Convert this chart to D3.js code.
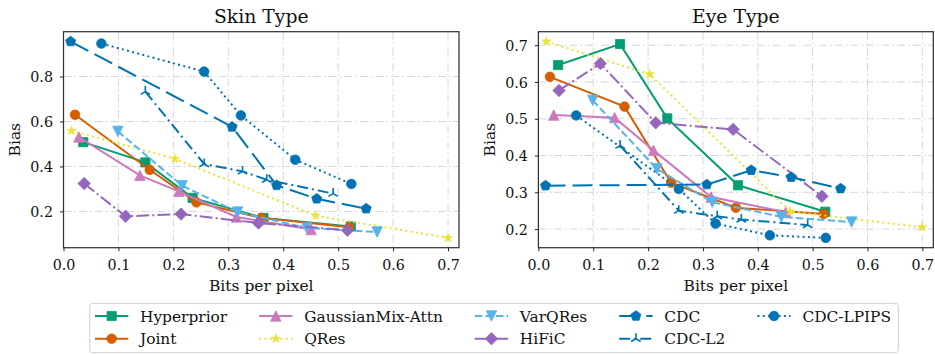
<!DOCTYPE html>
<html><head><meta charset="utf-8">
<script src="https://cdn.jsdelivr.net/npm/d3@7"></script>
<style>body{margin:0;background:#fff} svg{display:block} text{font-family:"DejaVu Serif",serif;fill:#111}</style>
</head><body><svg id="c" width="935" height="354"></svg>
<script>
// ---------- data ----------
const xTicks = [0, 0.1, 0.2, 0.3, 0.4, 0.5, 0.6, 0.7];
const xDomain = [0, 0.72];
const skinYTicks = [0.2, 0.4, 0.6, 0.8];
const eyeYTicks = [0.2, 0.3, 0.4, 0.5, 0.6, 0.7];
const panelTitles = ["Skin Type", "Eye Type"];
const xLabel = "Bits per pixel";
const yLabel = "Bias";
const seriesNames = ["Hyperprior", "Joint", "GaussianMix-Attn", "QRes", "VarQRes", "HiFiC", "CDC", "CDC-L2", "CDC-LPIPS"];

const hyperpriorBpp  = [0.036, 0.149, 0.235, 0.364, 0.523];
const hyperpriorSkin = [0.508, 0.418, 0.260, 0.171, 0.133];
const hyperpriorEye  = [0.646, 0.703, 0.501, 0.319, 0.247];

const jointBpp  = [0.021, 0.157, 0.242, 0.360, 0.520];
const jointSkin = [0.630, 0.385, 0.240, 0.171, 0.129];
const jointEye  = [0.614, 0.533, 0.326, 0.258, 0.241];

const gmaBpp  = [0.028, 0.139, 0.210, 0.315, 0.451];
const gmaSkin = [0.531, 0.360, 0.289, 0.175, 0.119];
const gmaEye  = [0.510, 0.503, 0.414, 0.287, 0.246];

const qresBpp  = [0.0146, 0.203, 0.459, 0.700];
const qresSkin = [0.559, 0.434, 0.181, 0.082];
const qresEye  = [0.710, 0.621, 0.248, 0.205];

const varqresBpp  = [0.099, 0.216, 0.317, 0.443, 0.571];
const varqresSkin = [0.556, 0.314, 0.197, 0.126, 0.108];
const varqresEye  = [0.550, 0.364, 0.273, 0.233, 0.219];

const hificBpp  = [0.0376, 0.113, 0.214, 0.355, 0.517];
const hificSkin = [0.324, 0.178, 0.188, 0.148, 0.116];
const hificEye  = [0.577, 0.650, 0.489, 0.471, 0.289];

const cdcBpp  = [0.013, 0.307, 0.388, 0.461, 0.551];
const cdcSkin = [0.956, 0.576, 0.316, 0.256, 0.212];
const cdcEye  = [0.318, 0.321, 0.360, 0.341, 0.310];

const cdcL2Bpp  = [0.149, 0.256, 0.326, 0.370, 0.491];
const cdcL2Skin = [0.733, 0.411, 0.378, 0.341, 0.279];
const cdcL2Eye  = [0.427, 0.250, 0.235, 0.226, 0.211];

const cdcLpipsBpp  = [0.069, 0.256, 0.323, 0.422, 0.524];
const cdcLpipsSkin = [0.947, 0.822, 0.627, 0.430, 0.322];
const cdcLpipsEye  = [0.509, 0.309, 0.215, 0.183, 0.176];

const bppLists  = [hyperpriorBpp, jointBpp, gmaBpp, qresBpp, varqresBpp, hificBpp, cdcBpp, cdcL2Bpp, cdcLpipsBpp];
const skinLists = [hyperpriorSkin, jointSkin, gmaSkin, qresSkin, varqresSkin, hificSkin, cdcSkin, cdcL2Skin, cdcLpipsSkin];
const eyeLists  = [hyperpriorEye, jointEye, gmaEye, qresEye, varqresEye, hificEye, cdcEye, cdcL2Eye, cdcLpipsEye];

// ---------- styles ----------
const styles = {
  "Hyperprior":       {color: "#029e73", dash: null, marker: "square"},
  "Joint":            {color: "#d55e00", dash: null, marker: "circle"},
  "GaussianMix-Attn": {color: "#cc78bc", dash: null, marker: "triUp"},
  "QRes":             {color: "#ece133", dash: "2,3.3", marker: "star"},
  "VarQRes":          {color: "#56b4e9", dash: "7.4,3.2", marker: "triDown"},
  "HiFiC":            {color: "#9467bd", dash: "12.8,3.2,2,3.2", marker: "diamond"},
  "CDC":              {color: "#0173b2", dash: "20,7", marker: "pentagon"},
  "CDC-L2":           {color: "#0173b2", dash: "11,4,2,4", marker: "tri"},
  "CDC-LPIPS":        {color: "#0173b2", dash: "2,3.3", marker: "circle"}
};

function markerPath(type) {
  const p = [];
  if (type === "square") { const h = 4.6; return `M${-h},${-h}H${h}V${h}H${-h}Z`; }
  if (type === "circle") { return d3.symbol(d3.symbolCircle, Math.PI * 4.8 * 4.8)(); }
  if (type === "triUp") { const h = 5.2; return `M0,${-h}L${h},${h}L${-h},${h}Z`; }
  if (type === "triDown") { const h = 5.2; return `M0,${h}L${h},${-h}L${-h},${-h}Z`; }
  if (type === "diamond") { const h = 6.2; return `M0,${-h}L${h},0L0,${h}L${-h},0Z`; }
  if (type === "star") {
    const R = 4.6, r = R * 0.382;
    for (let i = 0; i < 10; i++) {
      const a = -Math.PI / 2 + i * Math.PI / 5, rr = i % 2 ? r : R;
      p.push([rr * Math.cos(a), rr * Math.sin(a)]);
    }
    return "M" + p.map(d => d.join(",")).join("L") + "Z";
  }
  if (type === "pentagon") {
    const R = 5.3;
    for (let i = 0; i < 5; i++) {
      const a = -Math.PI / 2 + i * 2 * Math.PI / 5;
      p.push([R * Math.cos(a), R * Math.sin(a)]);
    }
    return "M" + p.map(d => d.join(",")).join("L") + "Z";
  }
  if (type === "tri") {
    const R = 5.5;
    return `M0,0L0,${-R}M0,0L${-R * 0.866},${R * 0.5}M0,0L${R * 0.866},${R * 0.5}`;
  }
}
function drawMarker(sel, name) {
  const st = styles[name];
  if (st.marker === "tri") {
    sel.attr("d", markerPath("tri")).attr("fill", "none").attr("stroke", st.color).attr("stroke-width", 1.6);
  } else {
    sel.attr("d", markerPath(st.marker)).attr("fill", st.color).attr("stroke", st.color).attr("stroke-width", 0.8);
  }
}

// ---------- layout ----------
const svg = d3.select("#c");
const panels = [
  {title: panelTitles[0], left: 63.5, right: 459, top: 31.7, bottom: 247.7, vals: skinLists, yTicks: skinYTicks, ylabX: 20.3},
  {title: panelTitles[1], left: 538.4, right: 933.3, top: 31.7, bottom: 247.7, vals: eyeLists, yTicks: eyeYTicks, ylabX: 494.5}
];

panels.forEach(P => {
  const all = P.vals.flat();
  const lo = d3.min(all), hi = d3.max(all), pad = (hi - lo) * 0.05;
  const x = d3.scaleLinear().domain(xDomain).range([P.left, P.right]);
  const y = d3.scaleLinear().domain([lo - pad, hi + pad]).range([P.bottom, P.top]);
  const g = svg.append("g");

  // grid
  const grid = g.append("g").attr("stroke", "#d6d6d6").attr("stroke-width", 1).attr("stroke-dasharray", "8,3,1.6,3");
  xTicks.forEach(t => grid.append("line").attr("x1", x(t)).attr("x2", x(t)).attr("y1", P.top).attr("y2", P.bottom));
  P.yTicks.forEach(t => grid.append("line").attr("y1", y(t)).attr("y2", y(t)).attr("x1", P.left).attr("x2", P.right));

  // axes
  const ax = g.append("g").attr("transform", `translate(0,${P.bottom})`)
    .call(d3.axisBottom(x).tickValues(xTicks).tickFormat(d3.format(".1f")).tickSize(3.5).tickSizeOuter(0));
  ax.select(".domain").remove();
  ax.selectAll("line").attr("stroke", "#222").attr("stroke-width", 1);
  ax.selectAll("text").attr("y", 22.8).attr("dy", 0).style("font-size", "14.3px").style("font-family", "DejaVu Serif").attr("fill", "#111");

  const ay = g.append("g").attr("transform", `translate(${P.left},0)`)
    .call(d3.axisLeft(y).tickValues(P.yTicks).tickFormat(d3.format(".1f")).tickSize(3.5).tickSizeOuter(0));
  ay.select(".domain").remove();
  ay.selectAll("line").attr("stroke", "#222").attr("stroke-width", 1);
  ay.selectAll("text").attr("x", -10.5).attr("dy", "0.36em").style("font-size", "14.3px").style("font-family", "DejaVu Serif").attr("fill", "#111");

  // series
  seriesNames.forEach((name, i) => {
    const st = styles[name];
    const pts = bppLists[i].map((b, j) => [b, P.vals[i][j]]);
    g.append("path").datum(pts)
      .attr("d", d3.line().x(d => x(d[0])).y(d => y(d[1])))
      .attr("fill", "none").attr("stroke", st.color).attr("stroke-width", 2)
      .attr("stroke-dasharray", st.dash);
    g.append("g").selectAll("path").data(pts).join("path")
      .attr("transform", d => `translate(${x(d[0])},${y(d[1])})`)
      .each(function () { drawMarker(d3.select(this), name); });
  });

  // frame
  g.append("rect").attr("x", P.left).attr("y", P.top).attr("width", P.right - P.left).attr("height", P.bottom - P.top)
    .attr("fill", "none").attr("stroke", "#333").attr("stroke-width", 1.25);

  // labels
  g.append("text").attr("x", (P.left + P.right) / 2).attr("y", 23).attr("text-anchor", "middle")
    .style("font-size", "18.8px").text(P.title);
  g.append("text").attr("x", (P.left + P.right) / 2).attr("y", 291.3).attr("text-anchor", "middle")
    .style("font-size", "15.5px").text(xLabel);
  g.append("text").attr("transform", `translate(${P.ylabX},${(P.top + P.bottom) / 2}) rotate(-90)`).attr("text-anchor", "middle")
    .style("font-size", "15.5px").text(yLabel);
});

// ---------- legend ----------
const leg = svg.append("g");
const box = leg.append("rect").attr("fill", "#fff").attr("stroke", "#cfcfcf").attr("stroke-width", 1).attr("rx", 3);
const rowsY = [316, 338.7];
const nRows = 2, handleLen = 33.3, textPad = 11.7, colGap = 32;
let colX = 95, lastEnd = 0;
for (let c = 0; c * nRows < seriesNames.length; c++) {
  let maxW = 0;
  for (let r = 0; r < nRows; r++) {
    const idx = c * nRows + r;
    if (idx >= seriesNames.length) break;
    const name = seriesNames[idx], st = styles[name];
    const yy = rowsY[r];
    leg.append("line").attr("x1", colX).attr("x2", colX + handleLen).attr("y1", yy).attr("y2", yy)
      .attr("stroke", st.color).attr("stroke-width", 2).attr("stroke-dasharray", st.dash);
    leg.append("path").attr("transform", `translate(${colX + handleLen / 2},${yy})`)
      .each(function () { drawMarker(d3.select(this), name); });
    const t = leg.append("text").attr("x", colX + handleLen + textPad).attr("y", yy).attr("dy", "0.36em")
      .style("font-size", "15.4px").text(name);
    maxW = Math.max(maxW, t.node().getComputedTextLength());
  }
  lastEnd = colX + handleLen + textPad + maxW;
  colX = lastEnd + colGap;
}
box.attr("x", 89.7).attr("y", 303.3).attr("width", lastEnd + 7.3 - 89.7).attr("height", 49.4);
</script></body></html>
